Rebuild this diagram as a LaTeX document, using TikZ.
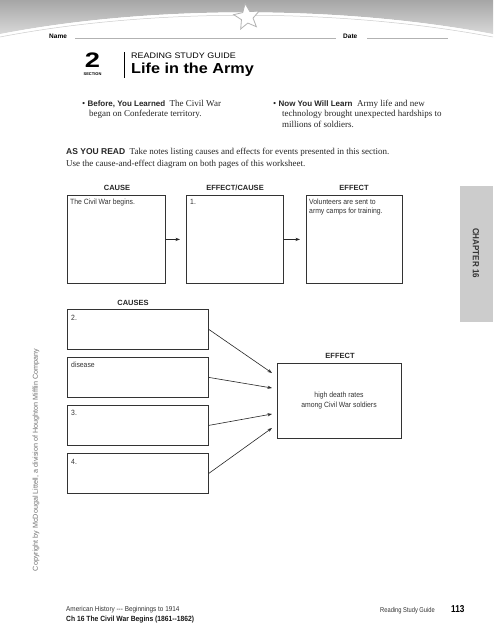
\documentclass[tikz,border=0pt]{standalone}
\usepackage{fontspec}
\setmainfont{Liberation Serif}
\newfontfamily\hv{Liberation Sans}
\newfontfamily\med[FakeStretch=0.9]{Liberation Sans}
\newfontfamily\cond[FakeStretch=0.82]{Liberation Sans}
\newfontfamily\wide[FakeStretch=1.12]{Liberation Sans}
\newfontfamily\xwide[FakeStretch=1.3]{Liberation Sans}
\usetikzlibrary{arrows.meta,shapes.geometric}
\definecolor{boxline}{gray}{0.2}
\definecolor{tabgray}{gray}{0.8}
\tikzset{
  box/.style={draw=boxline,line width=0.8pt,anchor=north west,inner sep=0pt},
  boxtxt/.style={anchor=base west,inner sep=0pt,font=\med\fontsize{7.6}{8.5}\selectfont,text=black!80},
  hdr/.style={anchor=base,inner sep=0pt,font=\hv\bfseries\fontsize{7.5}{8}\selectfont,text=black!85},
  conn/.style={line width=0.6pt,black!85,-{Stealth[length=4.5pt,width=3.2pt]}},
  serif/.style={anchor=base west,inner sep=0pt,font=\fontsize{9}{12}\selectfont,text=black!85},
  lead/.style={font=\hv\bfseries\fontsize{8}{10}\selectfont},
}
\begin{document}
\begin{tikzpicture}[x=1pt,y=-1pt]
\useasboundingbox (0,0) rectangle (493,640);
\fill[white] (0,0) rectangle (493,640);
% header band
\shade[top color=gray!70,bottom color=gray!30] (0,0) -- (493,0) -- (493,34) .. controls (340,5) and (150,5) .. (0,34) -- cycle;
\draw[white,line width=1.5pt] (493,35) .. controls (340,6) and (150,6) .. (0,35);
\draw[gray!40,line width=0.5pt] (493,37) .. controls (340,8) and (150,8) .. (0,37);
\node[star,star points=5,star point ratio=2.2,draw=gray!60,fill=white,line width=0.8pt,minimum size=27pt,inner sep=0pt,rotate=8] (star) at (247,17) {};
% name/date
\node[anchor=base west,inner sep=0pt,font=\hv\bfseries\fontsize{6.5}{8}\selectfont] (name) at (49,38.5) {Name};
\node[anchor=base west,inner sep=0pt,font=\hv\bfseries\fontsize{6.5}{8}\selectfont] (date) at (343,38.5) {Date};
\draw[gray!60,line width=0.4pt] (75,38.5) -- (336,38.5);
\draw[gray!60,line width=0.4pt] (367,38.5) -- (448,38.5);
% section title
\node[anchor=base,inner sep=0pt,font=\xwide\bfseries\fontsize{21}{22}\selectfont] (num) at (92.5,67) {2};
\node[anchor=base,inner sep=0pt,font=\hv\bfseries\fontsize{4}{5}\selectfont] (sect) at (92.5,75) {SECTION};
\draw[black,line width=0.7pt] (124,52) -- (124,78);
\node[anchor=base west,inner sep=0pt,font=\wide\fontsize{8}{9}\selectfont] (rsg) at (131,58) {READING STUDY GUIDE};
\node[anchor=base west,inner sep=0pt,font=\wide\bfseries\fontsize{14.5}{15}\selectfont] (title) at (131,73) {Life in the Army};
% bullets
\node[serif] (b1a) at (82,106) {\textbullet\ {\hv\bfseries\fontsize{8}{10}\selectfont Before, You Learned}\ \ The Civil War};
\node[serif] (b1b) at (89,116.5) {began on Confederate territory.};
\node[serif] (b2a) at (273,106) {\textbullet\ {\hv\bfseries\fontsize{8}{10}\selectfont Now You Will Learn}\ \ Army life and new};
\node[serif] (b2b) at (282,116.5) {technology brought unexpected hardships to};
\node[serif] (b2c) at (282,127) {millions of soldiers.};
% as you read
\node[serif] (ayr1) at (66,154.5) {{\hv\bfseries\fontsize{8.5}{10}\selectfont AS YOU READ}\ \ Take notes listing causes and effects for events presented in this section.};
\node[serif] (ayr2) at (66,166) {Use the cause-and-effect diagram on both pages of this worksheet.};
% row 1
\node[hdr] (h1) at (117,190) {CAUSE};
\node[hdr] (h2) at (235,190) {EFFECT/CAUSE};
\node[hdr] (h3) at (354,190) {EFFECT};
\node[box,minimum width=98pt,minimum height=88pt] (c1) at (67,195) {};
\node[box,minimum width=97pt,minimum height=88pt] (c2) at (186,195) {};
\node[box,minimum width=96pt,minimum height=88pt] (c3) at (306,195) {};
\node[boxtxt] (t1) at (70,204.5) {The Civil War begins.};
\node[boxtxt] (t2) at (190,204.5) {1.};
\node[boxtxt] (t3a) at (309,204.5) {Volunteers are sent to};
\node[boxtxt] (t3b) at (309,213) {army camps for training.};
\draw[conn,shorten >=6pt] (c1.east) -- (c2.west);
\draw[conn,shorten >=6pt] (c2.east) -- (c3.west);
% chapter tab
\fill[tabgray] (460,186) rectangle (493,322);
\node[rotate=-90,inner sep=0pt,font=\med\bfseries\fontsize{8.9}{9}\selectfont,text=black!80] (chap) at (476,253) {CHAPTER 16};
% copyright
\node[rotate=90,inner sep=0pt,font=\hv\fontsize{7.2}{8}\selectfont,text=black!55] (copy) at (36,460) {Copyright by McDougal Littell, a division of Houghton Mifflin Company};
% row 2
\node[hdr] (h4) at (133,305) {CAUSES};
\node[box,minimum width=141pt,minimum height=40pt] (d1) at (67,309) {};
\node[box,minimum width=141pt,minimum height=40pt] (d2) at (67,357) {};
\node[box,minimum width=141pt,minimum height=40pt] (d3) at (67,405) {};
\node[box,minimum width=141pt,minimum height=40pt] (d4) at (67,453) {};
\node[boxtxt] (u1) at (71,320) {2.};
\node[boxtxt] (u2) at (71,367) {disease};
\node[boxtxt] (u3) at (71,415) {3.};
\node[boxtxt] (u4) at (71,464) {4.};
\node[hdr] (h5) at (340,358) {EFFECT};
\node[box,minimum width=124pt,minimum height=75pt] (eff) at (277,363) {};
\node[boxtxt,anchor=base] (et1) at (339,397) {high death rates};
\node[boxtxt,anchor=base] (et2) at (339,407.5) {among Civil War soldiers};
\coordinate (e1) at (272,373);
\coordinate (e2) at (272,388);
\coordinate (e3) at (272,414);
\coordinate (e4) at (272,428);
\draw[conn] (d1.east) -- (e1);
\draw[conn] (d2.east) -- (e2);
\draw[conn] (d3.east) -- (e3);
\draw[conn] (d4.east) -- (e4);
% footer
\node[anchor=base west,inner sep=0pt,font=\med\fontsize{7.1}{8}\selectfont,text=black!80] (f1) at (66,611) {American History --- Beginnings to 1914};
\node[anchor=base west,inner sep=0pt,font=\med\bfseries\fontsize{7.5}{8}\selectfont,text=black!90] (f2) at (66,621) {Ch 16 The Civil War Begins (1861--1862)};
\node[anchor=base east,inner sep=0pt,font=\cond\fontsize{7}{8}\selectfont,text=black!80] (f3) at (435,612) {Reading Study Guide};
\node[anchor=base west,inner sep=0pt,font=\cond\bfseries\fontsize{10}{11}\selectfont] (f4) at (451,612) {113};
\end{tikzpicture}
\end{document}
